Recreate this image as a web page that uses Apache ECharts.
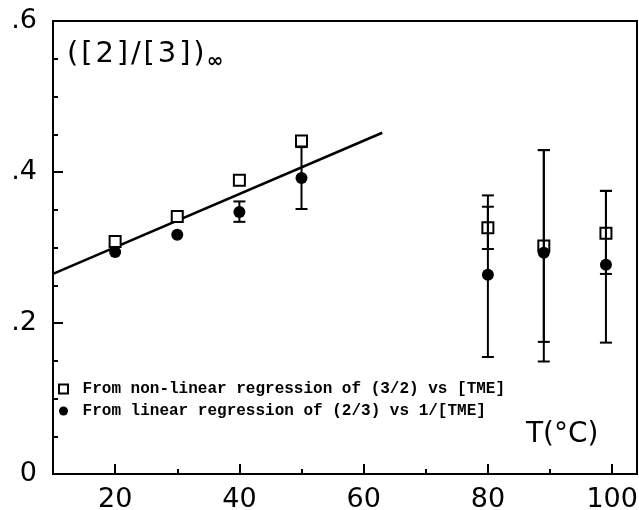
<!DOCTYPE html>
<html>
<head>
<meta charset="utf-8">
<script src="https://cdn.jsdelivr.net/npm/echarts@6/dist/echarts.min.js"></script>
<style>
    html, body { margin: 0; padding: 0; background: #fff; }
    #chart { width: 639px; height: 510px; }
</style>
</head>
<body>
<div id="chart"></div>
<script>
// datos
var temps = [20, 30, 40, 50, 80, 89, 99];
var squareVals = [0.308, 0.341, 0.389, 0.441, 0.326, 0.302, 0.319];
var squareLow = [null, null, null, null, 0.298, 0.175, 0.265];
var squareHigh = [null, null, null, null, 0.369, 0.429, 0.375];
var circleVals = [0.294, 0.317, 0.347, 0.392, 0.264, 0.293, 0.277];
var circleLow = [null, null, 0.334, 0.351, 0.155, 0.149, 0.174];
var circleHigh = [null, null, 0.361, 0.433, 0.354, 0.429, 0.375];
var fitT = [10, 63];
var fitVals = [0.265, 0.452];
var xMajorTicks = [20, 40, 60, 80, 100];
var xMinorTicks = [30, 50, 70, 90];

var nameSquare = 'From non-linear regression of (3/2) vs [TME]';
var nameCircle = 'From linear regression of (2/3) vs 1/[TME]';

function pairs(xs, ys) {
    return xs.map(function (x, i) { return [x, ys[i]]; });
}

function errorData(lo, hi) {
    var out = [];
    temps.forEach(function (t, i) {
        if (lo[i] != null) {
            out.push([t, lo[i], hi[i]]);
        }
    });
    return out;
}

function errorBarItem(params, api) {
    var t = api.value(0);
    var lo = api.coord([t, api.value(1)]);
    var hi = api.coord([t, api.value(2)]);
    var w = 6;
    var style = { stroke: '#000', lineWidth: 2 };
    return {
        type: 'group',
        children: [
            { type: 'line', shape: { x1: lo[0], y1: lo[1], x2: hi[0], y2: hi[1] }, style: style },
            { type: 'line', shape: { x1: lo[0] - w, y1: lo[1], x2: lo[0] + w, y2: lo[1] }, style: style },
            { type: 'line', shape: { x1: hi[0] - w, y1: hi[1], x2: hi[0] + w, y2: hi[1] }, style: style }
        ]
    };
}

var chart = echarts.init(document.getElementById('chart'));
var font = 'DejaVu Sans, sans-serif';
var hs = '\u200A'; // espacio muy fino entre letras

chart.setOption({
    animation: false,
    grid: {
        left: 53, right: 2, top: 21, bottom: 36,
        outerBoundsMode: 'none',
        show: true, borderColor: '#000', borderWidth: 2
    },
    xAxis: [{
        type: 'value', min: 10, max: 104,
        axisLine: { lineStyle: { color: '#000', width: 2 } },
        axisTick: { inside: true, length: 10, lineStyle: { color: '#000', width: 2 }, customValues: xMajorTicks },
        axisLabel: { color: '#000', fontSize: 27, fontFamily: font, margin: 12, customValues: xMajorTicks },
        splitLine: { show: false }
    }, {
        type: 'value', min: 10, max: 104, position: 'bottom',
        axisLine: { show: false },
        axisTick: { inside: true, length: 5, lineStyle: { color: '#000', width: 2 }, customValues: xMinorTicks },
        axisLabel: { show: false },
        splitLine: { show: false }
    }],
    yAxis: {
        type: 'value', min: 0, max: 0.6, interval: 0.2,
        axisLine: { show: true, lineStyle: { color: '#000', width: 2 } },
        axisTick: { show: true, inside: true, length: 10, lineStyle: { color: '#000', width: 2 } },
        minorTick: { show: true, splitNumber: 4, length: 5, lineStyle: { color: '#000', width: 2 } },
        axisLabel: {
            color: '#000', fontSize: 27, fontFamily: font, margin: 16,
            padding: [14, 0, 0, 0],
            formatter: function (v) {
                if (v == 0) return '0';
                return '.' + Math.round(v * 10);
            }
        },
        splitLine: { show: false }
    },
    legend: {
        orient: 'vertical', left: 58, top: 381, padding: 0,
        itemWidth: 9, itemHeight: 9, itemGap: 6,
        data: [nameSquare, nameCircle],
        formatter: function (name) { return ' ' + name; },
        textStyle: { color: '#000', fontSize: 16, fontFamily: 'Liberation Mono, DejaVu Sans Mono, monospace', fontWeight: 'bold', lineHeight: 16 }
    },
    graphic: [{
        type: 'text', left: 67, top: 40,
        style: {
            text: '{a|' + ['(', '[', '2', ']', '/', '[', '3', ']', ')'].join(hs) + '}{b|∞}',
            rich: {
                a: { fontSize: 29, fontFamily: font, fill: '#000' },
                b: { fontSize: 20, fontFamily: font, fontWeight: 'bold', fill: '#000', padding: [14, 0, 0, 2] }
            }
        }
    }, {
        type: 'text', left: 526, top: 421,
        style: { text: 'T(°C)', fontSize: 28, fontFamily: font, fill: '#000' }
    }],
    series: [{
        name: 'fit',
        type: 'line',
        data: pairs(fitT, fitVals),
        symbol: 'none',
        lineStyle: { color: '#000', width: 2.5 },
        z: 1
    }, {
        name: nameSquare,
        type: 'scatter',
        data: pairs(temps, squareVals),
        symbol: 'rect',
        symbolSize: 11,
        itemStyle: { color: '#fff', borderColor: '#000', borderWidth: 2, opacity: 1 },
        z: 2
    }, {
        name: nameCircle,
        type: 'scatter',
        data: pairs(temps, circleVals),
        symbol: 'circle',
        symbolSize: 12,
        itemStyle: { color: '#000', opacity: 1 },
        z: 3
    }, {
        name: 'errSquare',
        type: 'custom',
        renderItem: errorBarItem,
        data: errorData(squareLow, squareHigh),
        z: 4
    }, {
        name: 'errCircle',
        type: 'custom',
        renderItem: errorBarItem,
        data: errorData(circleLow, circleHigh),
        z: 4
    }]
});
</script>
</body>
</html>
